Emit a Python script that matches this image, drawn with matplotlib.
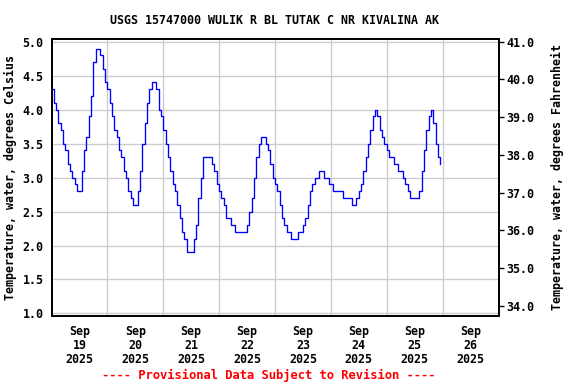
import matplotlib
matplotlib.use("Agg")
import matplotlib.pyplot as plt
import matplotlib.dates as mdates
import pandas as pd
import numpy as np

# Hourly water temperature (deg C), Sep 19 00:00 - Sep 25 23:00, 2025
sep19 = [4.3, 4.1, 4.0, 3.8, 3.7, 3.5, 3.4, 3.2, 3.1, 3.0, 2.9, 2.8,
         2.8, 3.1, 3.4, 3.6, 3.9, 4.2, 4.7, 4.9, 4.9, 4.8, 4.6, 4.4]
sep20 = [4.3, 4.1, 3.9, 3.7, 3.6, 3.4, 3.3, 3.1, 3.0, 2.8, 2.7, 2.6,
         2.6, 2.8, 3.1, 3.5, 3.8, 4.1, 4.3, 4.4, 4.4, 4.3, 4.0, 3.9]
sep21 = [3.7, 3.5, 3.3, 3.1, 2.9, 2.8, 2.6, 2.4, 2.2, 2.1, 1.9, 1.9,
         1.9, 2.1, 2.3, 2.7, 3.0, 3.3, 3.3, 3.3, 3.3, 3.2, 3.1, 2.9]
sep22 = [2.8, 2.7, 2.6, 2.4, 2.4, 2.3, 2.3, 2.2, 2.2, 2.2, 2.2, 2.2,
         2.3, 2.5, 2.7, 3.0, 3.3, 3.5, 3.6, 3.6, 3.5, 3.4, 3.2, 3.0]
sep23 = [2.9, 2.8, 2.6, 2.4, 2.3, 2.2, 2.2, 2.1, 2.1, 2.1, 2.2, 2.2,
         2.3, 2.4, 2.6, 2.8, 2.9, 3.0, 3.0, 3.1, 3.1, 3.0, 3.0, 2.9]
sep24 = [2.9, 2.8, 2.8, 2.8, 2.8, 2.7, 2.7, 2.7, 2.7, 2.6, 2.6, 2.7,
         2.8, 2.9, 3.1, 3.3, 3.5, 3.7, 3.9, 4.0, 3.9, 3.7, 3.6, 3.5]
sep25 = [3.4, 3.3, 3.3, 3.2, 3.2, 3.1, 3.1, 3.0, 2.9, 2.8, 2.7, 2.7,
         2.7, 2.7, 2.8, 3.1, 3.4, 3.7, 3.9, 4.0, 3.8, 3.5, 3.3, 3.2]

temps = sep19 + sep20 + sep21 + sep22 + sep23 + sep24 + sep25
times = pd.date_range("2025-09-19 00:00", periods=len(temps), freq="h")

left_ticks = [1.0, 1.5, 2.0, 2.5, 3.0, 3.5, 4.0, 4.5, 5.0]
right_ticks = [34.0, 35.0, 36.0, 37.0, 38.0, 39.0, 40.0, 41.0]
day_labels = ["Sep\n19\n2025", "Sep\n20\n2025", "Sep\n21\n2025", "Sep\n22\n2025",
              "Sep\n23\n2025", "Sep\n24\n2025", "Sep\n25\n2025", "Sep\n26\n2025"]

title = "USGS 15747000 WULIK R BL TUTAK C NR KIVALINA AK"
footer = "---- Provisional Data Subject to Revision ----"

FONT = "DejaVu Sans Mono"
FS = 8.7

fig = plt.figure(figsize=(6, 4), dpi=96)
ax = fig.add_axes([51.5 / 576, 1 - 315.5 / 384, (498.5 - 51.5) / 576, (315.5 - 39) / 384])

ax.plot(times, temps, color="#0000ff", lw=1.0, drawstyle="steps-post")

ymin, ymax = 0.97, 5.04
ax.set_ylim(ymin, ymax)
ax.set_xlim(pd.Timestamp("2025-09-19"), pd.Timestamp("2025-09-27"))

ax.set_yticks(left_ticks)
ax.set_yticklabels([f"{v:.1f}" for v in left_ticks], family=FONT, weight="bold", fontsize=FS)

noon = pd.date_range("2025-09-19 12:00", periods=8, freq="D")
midn = pd.date_range("2025-09-20 00:00", periods=7, freq="D")
ax.set_xticks(mdates.date2num(noon))
ax.set_xticklabels(day_labels, family=FONT, weight="bold", fontsize=FS, linespacing=1.1)
ax.set_xticks(mdates.date2num(midn), minor=True)

ax.tick_params(axis="x", which="major", length=0, pad=7)
ax.tick_params(axis="x", which="minor", length=0)
ax.tick_params(axis="y", length=0, pad=6)

ax.grid(True, which="minor", axis="x", color="#cccccc", lw=1.0)
ax.grid(True, which="major", axis="y", color="#cccccc", lw=1.0)
ax.set_axisbelow(True)

for s in ax.spines.values():
    s.set_linewidth(1.3)
    s.set_color("black")

ax.set_ylabel("Temperature, water, degrees Celsius", family=FONT, weight="bold",
              fontsize=FS, labelpad=4)

ax2 = ax.twinx()
ax2.set_ylim(ymin * 1.8 + 32, ymax * 1.8 + 32)
ax2.set_yticks(right_ticks)
ax2.set_yticklabels([f"{v:.1f}" for v in right_ticks], family=FONT, weight="bold", fontsize=FS)
ax2.tick_params(axis="y", length=4, width=1, pad=2)
for s in ax2.spines.values():
    s.set_linewidth(1.3)
ax2.set_ylabel("Temperature, water, degrees Fahrenheit", family=FONT, weight="bold",
               fontsize=FS, labelpad=12)

fig.text(274.5 / 576, 1 - 20 / 384, title, ha="center", va="center",
         family=FONT, weight="bold", fontsize=FS)
fig.text(269 / 576, 1 - 375 / 384, footer, ha="center", va="center",
         family=FONT, weight="bold", fontsize=9.1, color="red")

fig.savefig("out.png", dpi=96)
